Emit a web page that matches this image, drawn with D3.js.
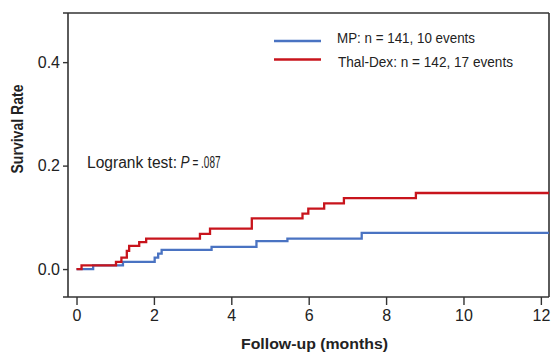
<!DOCTYPE html>
<html>
<head>
<meta charset="utf-8">
<script src="https://cdn.jsdelivr.net/npm/d3@7"></script>
<style>
  html, body { margin: 0; padding: 0; background: #fff; }
  svg { display: block; }
  text { font-family: "Liberation Sans", Arial, sans-serif; fill: #222; }
</style>
</head>
<body>
<svg id="chart" width="556" height="352"></svg>
<script>
// Cumulative event rate (Kaplan-Meier step function), follow-up in months
const mpTimes   = [0, 0.43, 1.20, 2.02, 2.11, 2.20, 3.49, 4.65, 5.45, 7.37, 12.21];
const mpRates   = [0, 0.007, 0.014, 0.022, 0.030, 0.037, 0.043, 0.054, 0.059, 0.070, 0.070];
const tdTimes   = [0, 0.13, 1.02, 1.16, 1.30, 1.36, 1.62, 1.80, 3.19, 3.45, 4.53, 5.84, 5.99, 6.40, 6.91, 8.77, 12.21];
const tdRates   = [0, 0.007, 0.014, 0.022, 0.035, 0.045, 0.052, 0.059, 0.068, 0.078, 0.098, 0.107, 0.117, 0.127, 0.137, 0.147, 0.147];
const xTicks    = [0, 2, 4, 6, 8, 10, 12];
const yTicks    = [0.0, 0.2, 0.4];
const seriesNames  = ["MP: n = 141, 10 events", "Thal-Dex: n = 142, 17 events"];
const seriesColors = ["#4a73c2", "#c8141c"];

const svg = d3.select("#chart");
const plotLeft = 68, plotRight = 549, plotTop = 13, plotBottom = 297;

const x = d3.scaleLinear().domain([-0.22, 12.21]).range([plotLeft, plotRight]);
const y = d3.scaleLinear().domain([-0.054, 0.495]).range([plotBottom, plotTop]);

// Frame
const frame = svg.append("g").attr("stroke", "#333").attr("stroke-width", 1.6);
frame.append("line").attr("x1", 63).attr("x2", plotRight).attr("y1", plotTop).attr("y2", plotTop);
frame.append("line").attr("x1", 63).attr("x2", plotRight).attr("y1", plotBottom).attr("y2", plotBottom);
frame.append("line").attr("x1", plotLeft).attr("x2", plotLeft).attr("y1", plotTop).attr("y2", plotBottom);
frame.append("line").attr("x1", plotRight).attr("x2", plotRight).attr("y1", plotTop).attr("y2", plotBottom);

// Axes
const yAxis = svg.append("g")
  .attr("transform", `translate(${plotLeft},0)`)
  .call(d3.axisLeft(y).tickValues(yTicks).tickFormat(d3.format(".1f")).tickSize(5).tickPadding(3));
yAxis.select(".domain").remove();
yAxis.selectAll(".tick line").attr("stroke", "#333").attr("stroke-width", 1.4);
yAxis.selectAll(".tick text").attr("font-size", 16).attr("fill", "#333")
  .style("font-family", "'Liberation Sans', Arial, sans-serif");

const xAxis = svg.append("g")
  .attr("transform", `translate(0,${plotBottom})`)
  .call(d3.axisBottom(x).tickValues(xTicks).tickFormat(d3.format("d")).tickSize(8).tickPadding(5));
xAxis.select(".domain").remove();
xAxis.selectAll(".tick line").attr("stroke", "#333").attr("stroke-width", 1.4);
xAxis.selectAll(".tick text").attr("font-size", 16).attr("fill", "#333")
  .style("font-family", "'Liberation Sans', Arial, sans-serif");

// Step curves
const line = d3.line()
  .x(d => x(d[0]))
  .y(d => y(d[1]))
  .curve(d3.curveStepAfter);

const series = [
  d3.zip(mpTimes, mpRates),
  d3.zip(tdTimes, tdRates)
];
svg.append("g").selectAll("path")
  .data(series)
  .join("path")
  .attr("d", line)
  .attr("fill", "none")
  .attr("stroke", (d, i) => seriesColors[i])
  .attr("stroke-width", 2.3);

// Legend
const legend = svg.append("g");
const legendRows = [
  { y: 41, ty: 42.5, tx: 337, len: 138 },
  { y: 59.5, ty: 66.5, tx: 338, len: 175 }
];
legendRows.forEach((r, i) => {
  legend.append("line")
    .attr("x1", 274).attr("x2", 321).attr("y1", r.y).attr("y2", r.y)
    .attr("stroke", seriesColors[i]).attr("stroke-width", 2.3);
  legend.append("text")
    .attr("x", r.tx).attr("y", r.ty)
    .attr("font-size", 15.5)
    .attr("textLength", r.len).attr("lengthAdjust", "spacingAndGlyphs")
    .text(seriesNames[i]);
});

// Log-rank annotation, set as three runs so the italic P keeps its own place
const lrParts = [
  { text: "Logrank test:", x: 87, len: 90, italic: false },
  { text: "P", x: 180.5, len: 9, italic: true },
  { text: "= .087", x: 192.5, len: 28, italic: false }
];
svg.append("g").selectAll("text")
  .data(lrParts)
  .join("text")
  .attr("x", d => d.x).attr("y", 168)
  .attr("font-size", 16)
  .attr("font-style", d => d.italic ? "italic" : "normal")
  .attr("textLength", d => d.len).attr("lengthAdjust", "spacingAndGlyphs")
  .text(d => d.text);

// Axis titles
svg.append("text")
  .attr("transform", "translate(23,129) rotate(-90)")
  .attr("text-anchor", "middle")
  .attr("font-size", 17).attr("font-weight", "bold")
  .attr("textLength", 89).attr("lengthAdjust", "spacingAndGlyphs")
  .text("Survival Rate");

svg.append("text")
  .attr("x", 314.5).attr("y", 349)
  .attr("text-anchor", "middle")
  .attr("font-size", 15.5).attr("font-weight", "bold")
  .attr("textLength", 147).attr("lengthAdjust", "spacingAndGlyphs")
  .text("Follow-up (months)");
</script>
</body>
</html>
